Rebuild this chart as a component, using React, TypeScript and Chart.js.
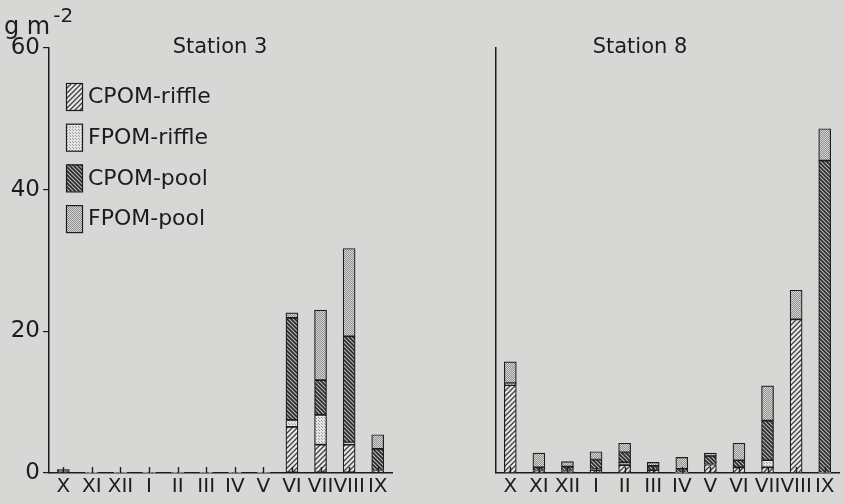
import React, { useEffect, useRef } from 'react';
import { Chart, registerables } from 'chart.js';

Chart.register(...registerables);

// ---- data (g m^-2) ----
const months = ['X', 'XI', 'XII', 'I', 'II', 'III', 'IV', 'V', 'VI', 'VII', 'VIII', 'IX'];
const seriesNames = ['CPOM-riffle', 'FPOM-riffle', 'CPOM-pool', 'FPOM-pool'];
const stationTitles = ['Station 3', 'Station 8'];
const yTickValues = [0, 20, 40, 60];

const st3CpomRiffle = [0.2, 0, 0, 0, 0, 0, 0, 0, 6.5, 4.0, 4.0, 0.3];
const st3FpomRiffle = [0, 0, 0, 0, 0, 0, 0, 0, 1.0, 4.2, 0.3, 0];
const st3CpomPool = [0.3, 0, 0, 0, 0, 0, 0, 0, 14.4, 4.9, 15.0, 3.1];
const st3FpomPool = [0, 0, 0, 0, 0, 0, 0, 0, 0.7, 9.9, 12.4, 2.0];

const st8CpomRiffle = [12.4, 0.3, 0.3, 0.4, 1.1, 0.4, 0, 1.2, 0.8, 0.8, 21.7, 0];
const st8FpomRiffle = [0.3, 0, 0, 0.1, 0.4, 0, 0, 0, 0, 1.0, 0, 0];
const st8CpomPool = [0, 0.5, 0.6, 1.4, 1.4, 0.6, 0.6, 1.2, 1.0, 5.6, 0, 44.1];
const st8FpomPool = [3.0, 2.0, 0.7, 1.1, 1.3, 0.5, 1.6, 0.4, 2.4, 4.9, 4.1, 4.5];

const INK = '#1c1c1c';
const BG = '#d7d7d5';

function stripePattern(dir: number, size: number, bg: string, fg: string, lw: number) {
  const c = document.createElement('canvas');
  c.width = size;
  c.height = size;
  const g = c.getContext('2d')!;
  g.fillStyle = bg;
  g.fillRect(0, 0, size, size);
  g.strokeStyle = fg;
  g.lineWidth = lw;
  g.beginPath();
  if (dir > 0) {
    g.moveTo(0, size); g.lineTo(size, 0);
    g.moveTo(-size / 2, size / 2); g.lineTo(size / 2, -size / 2);
    g.moveTo(size / 2, size * 1.5); g.lineTo(size * 1.5, size / 2);
  } else {
    g.moveTo(0, 0); g.lineTo(size, size);
    g.moveTo(-size / 2, size / 2); g.lineTo(size / 2, size * 1.5);
    g.moveTo(size / 2, -size / 2); g.lineTo(size * 1.5, size / 2);
  }
  g.stroke();
  return g.createPattern(c, 'repeat')!;
}

function dotPattern(size: number, bg: string, fg: string) {
  const c = document.createElement('canvas');
  c.width = size;
  c.height = size;
  const g = c.getContext('2d')!;
  g.fillStyle = bg;
  g.fillRect(0, 0, size, size);
  g.fillStyle = fg;
  g.fillRect(0, 0, 1, 1);
  g.fillRect(Math.floor(size / 2), Math.floor(size / 2), 1, 1);
  return g.createPattern(c, 'repeat')!;
}

const decorPlugin = {
  id: 'decor',
  afterDraw(chart: any, _args: any, opts: any) {
    const { ctx, chartArea, scales } = chart;
    const xs = scales.x;
    ctx.save();
    // small inner tick marks at each month
    ctx.strokeStyle = INK;
    ctx.lineWidth = 1.4;
    months.forEach((_m, i) => {
      const px = Math.round(xs.getPixelForValue(i)) + 0.5;
      ctx.beginPath();
      ctx.moveTo(px, chartArea.bottom);
      ctx.lineTo(px, chartArea.bottom - 6);
      ctx.stroke();
    });
    ctx.fillStyle = INK;
    ctx.textBaseline = 'alphabetic';
    // title
    ctx.font = '21px "DejaVu Sans"';
    ctx.textAlign = 'center';
    ctx.fillText(opts.title, opts.titleX, opts.titleY);
    ctx.textAlign = 'left';
    if (opts.unit) {
      ctx.font = '24px "DejaVu Sans"';
      ctx.fillText('g m', 4, 34);
      const w = ctx.measureText('g m').width;
      ctx.font = '20px "DejaVu Sans"';
      ctx.fillText('-2', 4 + w + 3, 22);
    }
    if (opts.legend) {
      const ds = chart.data.datasets;
      ctx.font = '22px "DejaVu Sans"';
      ctx.textBaseline = 'middle';
      ds.forEach((d: any, i: number) => {
        const top = 83 + i * 40.7;
        const bx = 66, bw = 16, bh = 27;
        ctx.fillStyle = d.backgroundColor;
        ctx.fillRect(bx, top, bw, bh);
        ctx.strokeStyle = INK;
        ctx.lineWidth = 1.2;
        ctx.strokeRect(bx + 0.5, top + 0.5, bw, bh);
        ctx.fillStyle = INK;
        ctx.fillText(d.label, 88, top + bh / 2 + 1);
      });
    }
    ctx.restore();
  },
};

function makeChart(
  canvas: HTMLCanvasElement,
  series: number[][],
  patterns: any[],
  opts: { title: string; titleX: number; showY: boolean; yWidth: number; padRight: number; unit: boolean; legend: boolean }
) {
  return new Chart(canvas, {
    type: 'bar',
    data: {
      labels: months,
      datasets: series.map((vals, i) => ({
        label: seriesNames[i],
        data: vals,
        stack: 's',
        backgroundColor: patterns[i],
        borderColor: INK,
        borderWidth: (c: any) => (c.raw === 0 ? 0 : 1.2),
        borderSkipped: false,
        barThickness: 12,
      })),
    },
    options: {
      responsive: false,
      animation: false,
      devicePixelRatio: 1,
      layout: { padding: { left: 0, right: opts.padRight, top: 48, bottom: 0 } },
      plugins: {
        legend: { display: false },
        title: { display: false },
        tooltip: { enabled: false },
        decor: { title: opts.title, titleX: opts.titleX, titleY: 53, unit: opts.unit, legend: opts.legend },
      } as any,
      scales: {
        x: {
          stacked: true,
          grid: { display: false, drawTicks: false },
          border: { display: true, color: INK, width: 1.5 },
          ticks: {
            autoSkip: false,
            maxRotation: 0,
            minRotation: 0,
            padding: 2,
            color: INK,
            font: { family: '"DejaVu Sans"', size: 20 },
          },
          afterFit: (s: any) => { s.height = 31; },
        },
        y: {
          stacked: true,
          min: 0,
          max: 60,
          afterBuildTicks: (s: any) => { s.ticks = yTickValues.map((v) => ({ value: v })); },
          grid: { display: opts.showY, drawOnChartArea: false, drawTicks: true, tickLength: 6, color: INK, lineWidth: 1.2 },
          border: { display: true, color: INK, width: 1.5 },
          ticks: {
            display: opts.showY,
            padding: 3,
            color: INK,
            font: { family: '"DejaVu Sans"', size: 23 },
          },
          afterFit: (s: any) => { s.width = opts.yWidth; },
        },
      },
    },
    plugins: [decorPlugin],
  } as any);
}

export default function App() {
  const ref1 = useRef<HTMLCanvasElement>(null);
  const ref2 = useRef<HTMLCanvasElement>(null);

  useEffect(() => {
    const patterns = [
      stripePattern(1, 5, '#e8e8e6', '#404040', 1.3),
      dotPattern(3, '#e4e4e2', '#9a9a9a'),
      stripePattern(-1, 4, '#b8b8b6', '#2a2a2a', 1.6),
      dotPattern(2, '#d4d4d2', '#919191'),
    ];
    const c1 = makeChart(
      ref1.current!,
      [st3CpomRiffle, st3FpomRiffle, st3CpomPool, st3FpomPool],
      patterns,
      { title: stationTitles[0], titleX: 220, showY: true, yWidth: 49, padRight: 29, unit: true, legend: true }
    );
    const c2 = makeChart(
      ref2.current!,
      [st8CpomRiffle, st8FpomRiffle, st8CpomPool, st8FpomPool],
      patterns,
      { title: stationTitles[1], titleX: 219, showY: false, yWidth: 75, padRight: 4, unit: false, legend: false }
    );
    return () => {
      c1.destroy();
      c2.destroy();
    };
  }, []);

  return (
    <div style={{ position: 'fixed', left: 0, top: 0, width: 843, height: 504, background: BG, overflow: 'hidden' }}>
      <canvas ref={ref1} width={421} height={504} style={{ position: 'absolute', left: 0, top: 0, width: 421, height: 504 }} />
      <canvas ref={ref2} width={422} height={504} style={{ position: 'absolute', left: 421, top: 0, width: 422, height: 504 }} />
    </div>
  );
}
